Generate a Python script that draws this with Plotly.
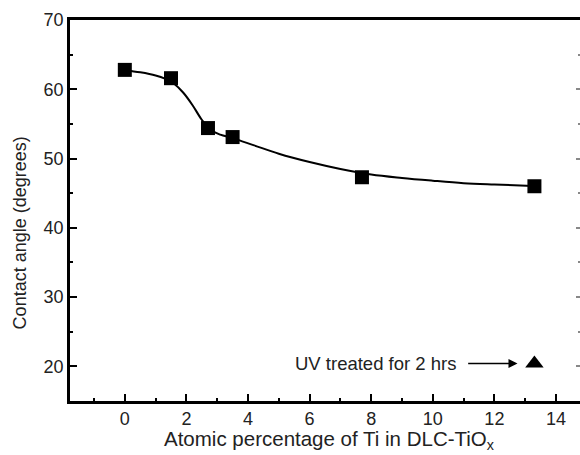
import plotly.graph_objects as go

# measured data (squares)
ti_pct = [0, 1.5, 2.7, 3.5, 7.7, 13.3]
angle = [62.8, 61.6, 54.4, 53.1, 47.3, 46.0]
# UV treated sample (triangle)
uv_x = [13.3]
uv_y = [20.4]
# fitted curve
fit_x = [0, 0.5, 1.0, 1.3, 1.6, 1.9, 2.2, 2.5, 2.8, 3.1, 3.5, 4.2, 5.0, 6.0, 7.0,
         8.0, 9.0, 10.0, 11.0, 12.0, 13.25]
fit_y = [62.76, 62.45, 62.0, 61.55, 60.8, 59.5, 57.7, 55.6, 54.1, 53.45, 52.95, 51.9,
         50.7, 49.5, 48.5, 47.7, 47.2, 46.8, 46.45, 46.25, 46.05]

x_ticks = [0, 2, 4, 6, 8, 10, 12, 14]
x_minor = [-1, 1, 3, 5, 7, 9, 11, 13]
y_ticks = [20, 30, 40, 50, 60, 70]
y_minor = [25, 35, 45, 55, 65]

FONT = "Liberation Sans, Arial, sans-serif"
TXT = "#222"

fig = go.Figure()
fig.add_trace(go.Scatter(x=fit_x, y=fit_y, mode="lines",
                         line=dict(color="black", width=2, shape="spline", smoothing=1.0),
                         hoverinfo="skip"))
fig.add_trace(go.Scatter(x=ti_pct, y=angle, mode="markers",
                         marker=dict(symbol="square", size=14, color="black")))
fig.add_trace(go.Scatter(x=uv_x, y=uv_y, mode="markers",
                         marker=dict(symbol="triangle-up", size=16, color="black")))
# phantom trace for right-side ticks
fig.add_trace(go.Scatter(x=[None], y=[None], yaxis="y2", showlegend=False))

fig.update_layout(
    width=580, height=455,
    margin=dict(l=70, r=0, t=20, b=54),
    paper_bgcolor="white", plot_bgcolor="white",
    showlegend=False,
    font=dict(family=FONT, color=TXT, size=18),
    xaxis=dict(range=[-1.78, 14.78], tickvals=x_ticks, ticks="inside", ticklen=7,
               tickwidth=2, tickcolor="black",
               minor=dict(tickvals=x_minor, ticks="inside",
                          ticklen=3, tickwidth=2, tickcolor="black"),
               showline=True, linecolor="black", linewidth=2.5, mirror=True,
               showgrid=False, zeroline=False, tickfont=dict(size=18, color=TXT)),
    yaxis=dict(range=[15, 70], tickvals=y_ticks, ticks="inside", ticklen=7,
               tickwidth=2, tickcolor="black",
               minor=dict(tickvals=y_minor, ticks="inside",
                          ticklen=3, tickwidth=2, tickcolor="black"),
               showline=True, linecolor="black", linewidth=2.5, mirror=False,
               showgrid=False, zeroline=False, tickfont=dict(size=18, color=TXT)),
    yaxis2=dict(range=[15, 70], overlaying="y", side="right", anchor="x",
                tickvals=y_ticks, ticks="inside", ticklen=4, tickwidth=1.5,
                tickcolor="#888", showticklabels=False, showline=False,
                showgrid=False, zeroline=False,
                minor=dict(tickvals=y_minor, ticks="inside",
                           ticklen=2, tickwidth=1.5, tickcolor="#888")),
)

fig.add_annotation(xref="paper", yref="paper", x=-0.098, y=0.44,
                   text="Contact angle (degrees)", textangle=-90, showarrow=False,
                   font=dict(size=18, color=TXT), xanchor="center", yanchor="middle")
fig.add_annotation(xref="x", yref="paper", x=6.64, y=-0.062,
                   text="Atomic percentage of Ti in DLC-TiO<sub>x</sub>", showarrow=False,
                   font=dict(size=20.5, color=TXT), xanchor="center", yanchor="top")
fig.add_annotation(xref="x", yref="y", x=5.45, y=uv_y[0],
                   text="UV treated for 2 hrs", showarrow=False,
                   font=dict(size=18.5, color=TXT), xanchor="left", yanchor="middle")
fig.add_annotation(xref="x", yref="y", axref="x", ayref="y",
                   x=12.75, y=uv_y[0], ax=11.1, ay=uv_y[0], text="",
                   showarrow=True, arrowhead=2, arrowsize=1.2, arrowwidth=1.5,
                   arrowcolor="black")

fig.write_html("out.html")
